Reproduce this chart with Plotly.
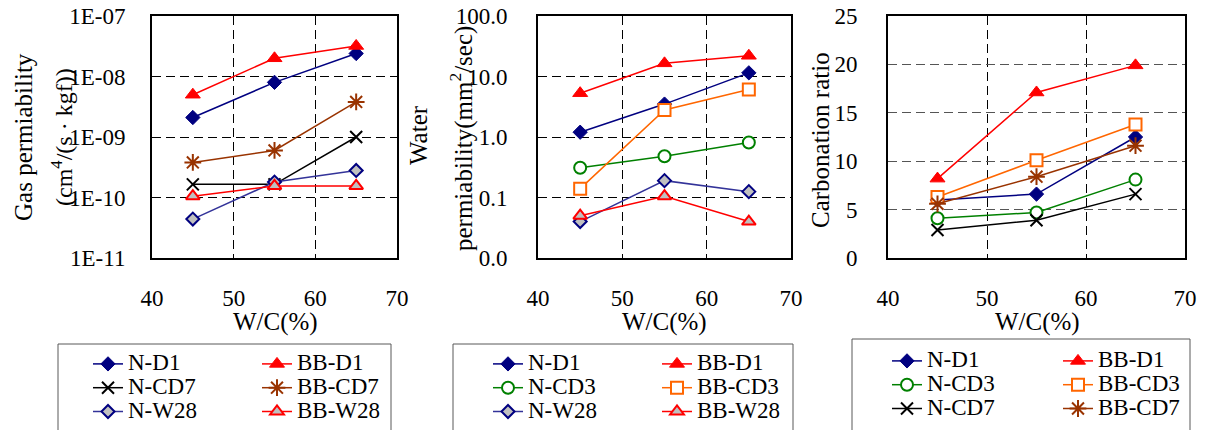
import plotly.graph_objects as go

# ---------------- data ----------------
wc = [45, 55, 65]

gas_series = ["N-D1", "BB-D1", "N-CD7", "BB-CD7", "N-W28", "BB-W28"]
gas_N_D1 = [2.1e-9, 8.0e-9, 2.4e-8]
gas_BB_D1 = [5.0e-9, 2.0e-8, 3.2e-8]
gas_N_CD7 = [1.65e-10, 1.65e-10, 1.0e-9]
gas_BB_CD7 = [3.8e-10, 6.0e-10, 3.8e-9]
gas_N_W28 = [4.4e-11, 1.8e-10, 2.8e-10]
gas_BB_W28 = [1.05e-10, 1.55e-10, 1.55e-10]
gas_vals = [gas_N_D1, gas_BB_D1, gas_N_CD7, gas_BB_CD7, gas_N_W28, gas_BB_W28]

water_series = ["N-D1", "BB-D1", "N-CD3", "BB-CD3", "N-W28", "BB-W28"]
water_N_D1 = [1.2, 3.5, 11.5]
water_BB_D1 = [5.3, 16.5, 22.0]
water_N_CD3 = [0.31, 0.48, 0.81]
water_BB_CD3 = [0.14, 2.8, 6.1]
water_N_W28 = [0.04, 0.19, 0.125]
water_BB_W28 = [0.05, 0.105, 0.04]
water_vals = [water_N_D1, water_BB_D1, water_N_CD3, water_BB_CD3, water_N_W28, water_BB_W28]

carb_series = ["N-D1", "BB-D1", "N-CD3", "BB-CD3", "N-CD7", "BB-CD7"]
carb_N_D1 = [6.0, 6.6, 12.5]
carb_BB_D1 = [8.2, 17.1, 19.9]
carb_N_CD3 = [4.1, 4.7, 8.1]
carb_BB_CD3 = [6.3, 10.1, 13.8]
carb_N_CD7 = [2.9, 3.9, 6.6]
carb_BB_CD7 = [5.6, 8.4, 11.6]
carb_vals = [carb_N_D1, carb_BB_D1, carb_N_CD3, carb_BB_CD3, carb_N_CD7, carb_BB_CD7]

x_ticks = [40, 50, 60, 70]
gas_tickvals = [1e-11, 1e-10, 1e-9, 1e-8, 1e-7]
gas_ticktext = ["1E-11", "1E-10", "1E-09", "1E-08", "1E-07"]
water_tickvals = [0.01, 0.1, 1, 10, 100]
water_ticktext = ["0.0", "0.1", "1.0", "10.0", "100.0"]
carb_tickvals = [0, 5, 10, 15, 20, 25]

# ---------------- styles ----------------
NAVY = "#000080"
RED = "#FF0000"
BROWN = "#993300"
GREEN = "#008000"
ORANGE = "#FF6600"
GRAY = "#C0C0C0"
styles = {
    "N-D1": dict(line=NAVY, symbol="diamond", fill=NAVY, mline=NAVY, mw=1, size=11),
    "BB-D1": dict(line=RED, symbol="triangle-up", fill=RED, mline=RED, mw=1, size=13),
    "N-CD7": dict(line="#000000", symbol="x-thin", fill="#000000", mline="#000000", mw=2, size=12),
    "BB-CD7": dict(line=BROWN, symbol="asterisk", fill=BROWN, mline=BROWN, mw=2, size=14),
    "N-W28": dict(line="#333399", symbol="diamond", fill=GRAY, mline=NAVY, mw=2, size=10),
    "BB-W28": dict(line=RED, symbol="triangle-up", fill=GRAY, mline=RED, mw=2, size=12),
    "N-CD3": dict(line=GREEN, symbol="circle", fill="white", mline=GREEN, mw=2, size=12),
    "BB-CD3": dict(line=ORANGE, symbol="square", fill="white", mline=ORANGE, mw=2, size=12),
}

FONT = "Times New Roman, Liberation Serif, serif"
fig = go.Figure()

panels = [
    (gas_series, gas_vals, "x", "y", ["legend", "legend2"]),
    (water_series, water_vals, "x2", "y2", ["legend3", "legend4"]),
    (carb_series, carb_vals, "x3", "y3", ["legend5", "legend6"]),
]
for names, vals, xa, ya, legs in panels:
    for i, (nm, v) in enumerate(zip(names, vals)):
        s = styles[nm]
        fig.add_trace(go.Scatter(
            x=wc, y=v, xaxis=xa, yaxis=ya, mode="lines+markers",
            name='<span style="font-size:23px">%s</span>' % nm,
            legend=legs[i % 2],
            line=dict(color=s["line"], width=1.5),
            marker=dict(symbol=s["symbol"], size=s["size"], color=s["fill"],
                        line=dict(color=s["mline"], width=s["mw"])),
        ))

ydom = [0.4, 1 - 16 / 430]
xdoms = [[152 / 1210, 397 / 1210], [538 / 1210, 791 / 1210], [888 / 1210, 1185 / 1210]]

axis_common = dict(showline=True, linecolor="black", linewidth=2, mirror=True,
                   showgrid=True, gridcolor="black", griddash="9px,5px", gridwidth=1,
                   ticks="", zeroline=False, automargin=False,
                   tickfont=dict(family=FONT, size=23, color="black"))

for k, dom in enumerate(xdoms):
    sfx = "" if k == 0 else str(k + 1)
    fig.layout["xaxis" + sfx] = dict(domain=dom, anchor="y" + sfx, range=[40, 70],
                                     tickvals=x_ticks, ticklabelstandoff=18, **axis_common)

fig.layout["yaxis"] = dict(domain=ydom, anchor="x", type="log", range=[-11, -7],
                           tickvals=gas_tickvals, ticktext=gas_ticktext,
                           ticklabelstandoff=20, **axis_common)
fig.layout["yaxis2"] = dict(domain=ydom, anchor="x2", type="log", range=[-2, 2],
                            tickvals=water_tickvals, ticktext=water_ticktext,
                            ticklabelstandoff=24, **axis_common)
ax3 = dict(axis_common)
ax3["gridcolor"] = "#555555"
fig.layout["yaxis3"] = dict(domain=ydom, anchor="x3", range=[0, 25],
                            tickvals=carb_tickvals, ticklabelstandoff=24, **ax3)

# legends
leg_x = [88, 257, 488, 657, 887, 1058]
leg_top = [347, 347, 347, 347, 344, 344]
for j in range(6):
    key = "legend" if j == 0 else "legend%d" % (j + 1)
    fig.layout[key] = dict(x=leg_x[j] / 1210, y=1 - leg_top[j] / 430, xanchor="left",
                           yanchor="top", orientation="v", bgcolor="rgba(0,0,0,0)",
                           borderwidth=0, font=dict(family=FONT, size=16, color="black"),
                           tracegroupgap=0)

boxes = [(58, 391, 344), (453, 793, 344), (852, 1190, 339)]
for x0, x1, yt in boxes:
    fig.add_shape(type="rect", xref="paper", yref="paper", x0=x0 / 1210, x1=x1 / 1210,
                  y0=-0.1, y1=1 - yt / 430, line=dict(color="#595959", width=1),
                  fillcolor="rgba(0,0,0,0)", layer="below")

def ann(text, x, y, size, angle=0):
    fig.add_annotation(text=text, xref="paper", yref="paper", x=x / 1210, y=1 - y / 430,
                       xanchor="center", yanchor="middle", showarrow=False, textangle=angle,
                       font=dict(family=FONT, size=size, color="black"))

ann("W/C(%)", 275, 322, 25)
ann("W/C(%)", 665, 322, 25)
ann("W/C(%)", 1037, 322, 25)
ann("Gas permiability", 23, 137, 25, -90)
ann("(cm<sup>4</sup>/(s · kgf))", 62, 137, 24, -90)
ann("Water", 418, 135, 25, -90)
ann("permiability(mm<sup>2</sup>/sec)", 461, 139, 25, -90)
ann("Carbonation ratio", 820, 140, 25, -90)

fig.update_layout(width=1210, height=430, margin=dict(l=0, r=0, t=0, b=0),
                  plot_bgcolor="white", paper_bgcolor="white", showlegend=True,
                  font=dict(family=FONT, color="black"))

fig.write_html("out.html")
